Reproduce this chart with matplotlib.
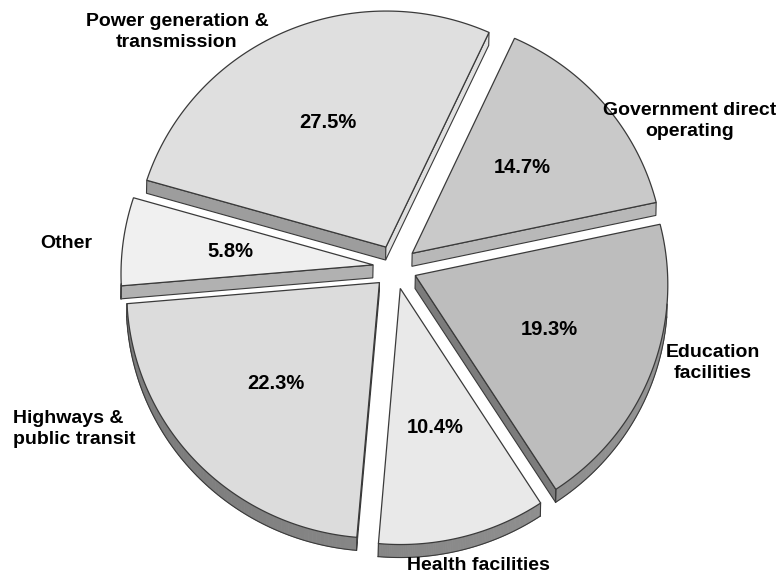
import numpy as np
import matplotlib.pyplot as plt
from matplotlib.patches import Polygon

plt.rcParams['font.family'] = ['Liberation Sans', 'DejaVu Sans']

# Shares of spending, clockwise from the wedge just right of 12 o'clock
categories = ['Government direct\noperating', 'Education\nfacilities', 'Health facilities',
              'Highways &\npublic transit', 'Other', 'Power generation &\ntransmission']
shares = [14.7, 19.3, 10.4, 22.3, 5.8, 27.5]
top_colors = ['#c9c9c9', '#bdbdbd', '#e9e9e9', '#dcdcdc', '#f0f0f0', '#dfdfdf']

# outer label anchors (pixel space) and alignment
label_xy = [(690, 121), (713, 363), (478, 566), (13, 429), (66, 243), (177, 32)]
label_ha = ['center', 'center', 'center', 'left', 'center', 'center']

CX, CY = 395, 267          # pie centre
RX, RY = 252, 246          # radii of the top face
EXPLODE = 22
PERSP = 0.035              # near (lower) half drawn slightly bigger
DEPTH = np.array([-0.3, 13.0])
START = 65.0
EDGE = '#3a3a3a'


def project(mx, my):
    k = 1 + PERSP * my / RY
    return CX + mx * k, CY + my * k


def wedge_outline(t1, t2, n=90):
    mid = np.radians((t1 + t2) / 2)
    ax_, ay_ = EXPLODE * np.cos(mid), -EXPLODE * np.sin(mid)
    ts = np.radians(np.linspace(t1, t2, n))
    mx = np.concatenate([[ax_], ax_ + RX * np.cos(ts)])
    my = np.concatenate([[ay_], ay_ - RY * np.sin(ts)])
    x, y = project(mx, my)
    return np.column_stack([x, y])


fig = plt.figure(figsize=(7.8, 5.75), dpi=100)
ax = fig.add_axes([0, 0, 1, 1])
ax.set_xlim(0, 780)
ax.set_ylim(575, 0)
ax.axis('off')

bounds = START - np.concatenate([[0], np.cumsum(shares)]) * 3.6
wedges = []
for i, s in enumerate(shares):
    pts = wedge_outline(bounds[i], bounds[i + 1])
    wedges.append((pts[0, 1], i, pts))

# back (top of picture) to front
for _, i, pts in sorted(wedges):
    cen = pts.mean(axis=0)
    npts = len(pts)
    arc_vis = []
    for j in range(npts):
        p, q = pts[j], pts[(j + 1) % npts]
        d = q - p
        nrm = np.array([-d[1], d[0]])
        nrm /= np.hypot(*nrm)
        if np.dot(nrm, (p + q) / 2 - cen) < 0:
            nrm = -nrm
        if np.dot(nrm, DEPTH) <= 0.8:
            continue
        quad = [p, q, q + DEPTH, p + DEPTH]
        radial = (j == 0) or (j == npts - 1)
        if radial:
            g = 0.45 + 0.45 * (nrm[0] + 1) / 2
            ax.add_patch(Polygon(quad, closed=True, facecolor=str(g),
                                 edgecolor=EDGE, lw=0.8))
        else:
            g = 0.53 + 0.05 * nrm[0]
            ax.add_patch(Polygon(quad, closed=True, facecolor=str(g),
                                 edgecolor=str(g), lw=0.6))
            arc_vis.append(j)
    if arc_vis:
        j0, j1 = min(arc_vis), max(arc_vis) + 1
        seg = pts[j0:j1 + 1] + DEPTH
        ax.plot(seg[:, 0], seg[:, 1], color=EDGE, lw=0.8)
        for k in (j0, j1):
            ax.plot([pts[k, 0], pts[k, 0] + DEPTH[0]], [pts[k, 1], pts[k, 1] + DEPTH[1]],
                    color=EDGE, lw=0.8)
    ax.add_patch(Polygon(pts, closed=True, facecolor=top_colors[i],
                         edgecolor=EDGE, lw=0.9))

    # value label inside the wedge
    mid = np.radians((bounds[i] + bounds[i + 1]) / 2)
    rr = EXPLODE + 0.57 * RX
    lx, ly = project(rr * np.cos(mid), -rr * np.sin(mid) * RY / RX)
    ax.text(lx, ly, f'{shares[i]:.1f}%', ha='center', va='center',
            fontsize=14.5, fontweight='bold', color='black')

for i, lab in enumerate(categories):
    ax.text(label_xy[i][0], label_xy[i][1], lab, ha=label_ha[i], va='center',
            fontsize=14, fontweight='bold', color='black', linespacing=1.3,
            multialignment=label_ha[i])

fig.savefig('out.png', dpi=100, facecolor='white')
